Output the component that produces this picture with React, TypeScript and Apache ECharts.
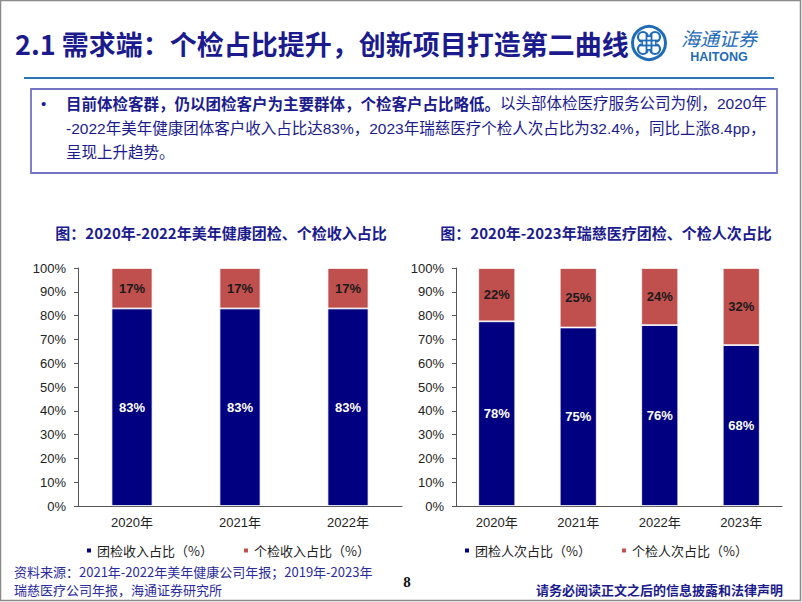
import React, { useEffect, useRef } from 'react';
import * as echarts from 'echarts';

const leftCategories = ['2020年', '2021年', '2022年'];
const leftGroupShare = [83, 83, 83];
const leftIndividualShare = [17, 17, 17];
const leftLegend = ['团检收入占比（%）', '个检收入占比（%）'];

const rightCategories = ['2020年', '2021年', '2022年', '2023年'];
const rightGroupShare = [77.6, 75, 76, 67.6];
const rightIndividualShare = [22.4, 25, 24, 32.4];
const rightLegend = ['团检人次占比（%）', '个检人次占比（%）'];

const yMin = 0;
const yMax = 100;
const yInterval = 10;

const FONT = '"Liberation Sans", "Noto Sans CJK SC", sans-serif';
const CJK = '"Noto Sans CJK SC", "Liberation Sans", sans-serif';
const NAVY = '#1B1B8E';
const BLUE = '#000080';
const RED = '#C0504D';

export default function App() {
  const ref = useRef<HTMLDivElement>(null);
  useEffect(() => {
    document.body.style.margin = '0';
    const chart = echarts.init(ref.current!, null, { renderer: 'svg' });

    const yAxisBase = (gi: number) => ({
      type: 'value',
      gridIndex: gi,
      min: yMin,
      max: yMax,
      interval: yInterval,
      axisLine: { show: true, lineStyle: { color: '#555', width: 1 } },
      axisTick: { show: true, length: 4, lineStyle: { color: '#555' } },
      splitLine: { show: false },
      axisLabel: { formatter: '{value}%', fontSize: 13, color: '#222', fontFamily: FONT, margin: 12 },
    });
    const xAxisBase = (gi: number, data: string[]) => ({
      type: 'category',
      gridIndex: gi,
      data,
      axisLine: { show: true, lineStyle: { color: '#555', width: 1 } },
      axisTick: { show: false },
      axisLabel: { fontSize: 13, color: '#222', fontFamily: FONT, margin: 10 },
    });
    const mkBar = (name: string, data: number[], color: string, gi: number, labelColor: string, barWidth: number) => ({
      type: 'bar',
      name,
      data,
      stack: 's' + gi,
      xAxisIndex: gi,
      yAxisIndex: gi,
      barWidth,
      itemStyle: { color, borderColor: '#fff', borderWidth: 0.8 },
      label: {
        show: true,
        position: 'inside',
        formatter: (p: any) => Math.round(p.value) + '%',
        color: labelColor,
        fontWeight: 'bold',
        fontSize: 13,
        fontFamily: FONT,
      },
    });

    const legendBase = {
      icon: 'rect',
      itemWidth: 6,
      itemHeight: 6,
      itemGap: 29,
      top: 539,
      textStyle: { fontSize: 13, color: '#222', fontFamily: CJK },
    };

    const graphic: any[] = [
      { type: 'rect', shape: { x: 0.5, y: 0.5, width: 800, height: 600 }, style: { fill: 'none', stroke: '#8a8a8a', lineWidth: 1.5 } },
      {
        type: 'text', x: 15, y: 43,
        style: { text: '2.1 需求端：个检占比提升，创新项目打造第二曲线', font: 'bold 27px ' + CJK, fill: NAVY, verticalAlign: 'middle' },
      },
      // logo
      { type: 'circle', shape: { cx: 649, cy: 43, r: 16.5 }, style: { fill: 'none', stroke: '#1E6BB8', lineWidth: 3 } },
      { type: 'arc', shape: { cx: 643, cy: 37, r: 5, startAngle: Math.PI * 0.5, endAngle: Math.PI * 2 }, style: { fill: 'none', stroke: '#1E6BB8', lineWidth: 2.2 } },
      { type: 'arc', shape: { cx: 655, cy: 37, r: 5, startAngle: Math.PI, endAngle: Math.PI * 2.5 }, style: { fill: 'none', stroke: '#1E6BB8', lineWidth: 2.2 } },
      { type: 'arc', shape: { cx: 643, cy: 49, r: 5, startAngle: 0, endAngle: Math.PI * 1.5 }, style: { fill: 'none', stroke: '#1E6BB8', lineWidth: 2.2 } },
      { type: 'arc', shape: { cx: 655, cy: 49, r: 5, startAngle: -Math.PI * 0.5, endAngle: Math.PI }, style: { fill: 'none', stroke: '#1E6BB8', lineWidth: 2.2 } },
      { type: 'line', shape: { x1: 646.5, y1: 33, x2: 646.5, y2: 53 }, style: { stroke: '#1E6BB8', lineWidth: 1.8 } },
      { type: 'line', shape: { x1: 651.5, y1: 33, x2: 651.5, y2: 53 }, style: { stroke: '#1E6BB8', lineWidth: 1.8 } },
      { type: 'line', shape: { x1: 639, y1: 40.5, x2: 659, y2: 40.5 }, style: { stroke: '#1E6BB8', lineWidth: 1.8 } },
      { type: 'line', shape: { x1: 639, y1: 45.5, x2: 659, y2: 45.5 }, style: { stroke: '#1E6BB8', lineWidth: 1.8 } },
      {
        type: 'text', x: 681, y: 37,
        style: { text: '海通证券', font: 'italic 19px ' + CJK, fill: '#1E6BB8', verticalAlign: 'middle' },
      },
      {
        type: 'text', x: 719, y: 57,
        style: { text: 'HAITONG', font: 'bold 12.5px "Liberation Sans"', fill: '#1E6BB8', verticalAlign: 'middle', align: 'center' },
      },
      { type: 'line', shape: { x1: 24, y1: 78, x2: 774, y2: 78 }, style: { stroke: '#2E75B6', lineWidth: 2 } },
      // text box
      { type: 'rect', shape: { x: 31, y: 89, width: 746, height: 84 }, style: { fill: 'none', stroke: '#7474C4', lineWidth: 1.8 } },
      { type: 'text', x: 41, y: 103, style: { text: '•', font: '15px ' + FONT, fill: NAVY, verticalAlign: 'middle' } },
      {
        type: 'text', x: 66, y: 103,
        style: {
          text: '{b|目前体检客群，仍以团检客户为主要群体，个检客户占比略低。}{r|以头部体检医疗服务公司为例，2020年}',
          verticalAlign: 'middle',
          rich: {
            b: { font: 'bold 15.5px ' + CJK, fill: NAVY, color: NAVY },
            r: { font: '15.5px ' + FONT, fill: NAVY, color: NAVY },
          },
        },
      },
      {
        type: 'text', x: 66, y: 128,
        style: { text: '-2022年美年健康团体客户收入占比达83%，2023年瑞慈医疗个检人次占比为32.4%，同比上涨8.4pp，', font: '15.5px ' + FONT, fill: NAVY, verticalAlign: 'middle' },
      },
      {
        type: 'text', x: 66, y: 152,
        style: { text: '呈现上升趋势。', font: '15.5px ' + FONT, fill: NAVY, verticalAlign: 'middle' },
      },
      // chart titles
      {
        type: 'text', x: 221, y: 232,
        style: { text: '图：2020年-2022年美年健康团检、个检收入占比', font: 'bold 15px ' + CJK, fill: NAVY, align: 'center', verticalAlign: 'middle' },
      },
      {
        type: 'text', x: 606, y: 232,
        style: { text: '图：2020年-2023年瑞慈医疗团检、个检人次占比', font: 'bold 15px ' + CJK, fill: NAVY, align: 'center', verticalAlign: 'middle' },
      },
      // footer
      {
        type: 'text', x: 14, y: 571,
        style: { text: '资料来源：2021年-2022年美年健康公司年报；2019年-2023年', font: '13px ' + CJK, fill: '#2B2B9E', verticalAlign: 'middle' },
      },
      {
        type: 'text', x: 14, y: 589,
        style: { text: '瑞慈医疗公司年报，海通证券研究所', font: '13px ' + CJK, fill: '#2B2B9E', verticalAlign: 'middle' },
      },
      {
        type: 'text', x: 407, y: 582,
        style: { text: '8', font: 'bold 15px "Liberation Serif"', fill: '#111', align: 'center', verticalAlign: 'middle' },
      },
      {
        type: 'text', x: 783, y: 589,
        style: { text: '请务必阅读正文之后的信息披露和法律声明', font: 'bold 13px ' + CJK, fill: NAVY, align: 'right', verticalAlign: 'middle' },
      },
    ];

    chart.setOption({
      animation: false,
      backgroundColor: '#fff',
      grid: [
        { left: 78, right: 400, top: 268, bottom: 96 },
        { left: 456, right: 20, top: 268, bottom: 96 },
      ],
      xAxis: [xAxisBase(0, leftCategories), xAxisBase(1, rightCategories)],
      yAxis: [yAxisBase(0), yAxisBase(1)],
      legend: [
        { ...legendBase, data: leftLegend, left: 80 },
        { ...legendBase, data: rightLegend, left: 458 },
      ],
      series: [
        mkBar(leftLegend[0], leftGroupShare, BLUE, 0, '#fff', 41),
        mkBar(leftLegend[1], leftIndividualShare, RED, 0, '#1a1a1a', 41),
        mkBar(rightLegend[0], rightGroupShare, BLUE, 1, '#fff', 37),
        mkBar(rightLegend[1], rightIndividualShare, RED, 1, '#1a1a1a', 37),
      ],
      graphic,
    });
    return () => chart.dispose();
  }, []);
  return <div ref={ref} style={{ position: 'absolute', left: 0, top: 0, width: 802, height: 602 }} />;
}
